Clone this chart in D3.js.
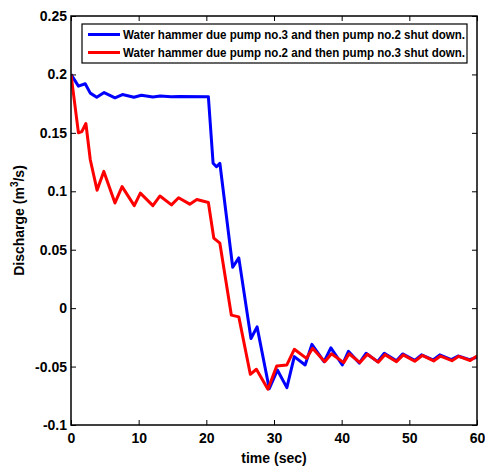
<!DOCTYPE html>
<html>
<head>
<meta charset="utf-8">
<script src="https://cdn.jsdelivr.net/npm/d3@7"></script>
<style>
  html, body { margin: 0; padding: 0; background: #fff; }
  svg { display: block; }
  text { font-family: "Liberation Sans", Arial, Helvetica, sans-serif; font-weight: bold; fill: #000; }
</style>
</head>
<body>
<svg id="chart" width="485" height="467"></svg>
<script>
// Discharge after pump trips: pump no.3 first, then pump no.2
const blueTime = [0, 1.1, 2.1, 2.85, 3.8, 4.9, 6.5, 7.6, 9.3, 10.4, 12.1, 13.2, 14.8, 16, 20.3, 21.0, 21.5, 22.0, 23.9, 24.8, 26.6, 27.5, 29.3, 30.5, 31.9, 33.0, 34.6, 35.6, 37.4, 38.4, 40.1, 41.0, 42.6, 43.6, 45.3, 46.3, 48.1, 49.0, 50.8, 51.8, 53.5, 54.5, 56.2, 57.2, 58.9, 60];
const blueFlow = [0.2, 0.19, 0.192, 0.184, 0.1805, 0.1845, 0.18, 0.1828, 0.1805, 0.1822, 0.1806, 0.1815, 0.1808, 0.1812, 0.181, 0.124, 0.121, 0.124, 0.035, 0.043, -0.026, -0.016, -0.069, -0.053, -0.068, -0.0415, -0.0486, -0.031, -0.0458, -0.034, -0.0486, -0.037, -0.047, -0.0386, -0.0458, -0.0386, -0.045, -0.0392, -0.0447, -0.040, -0.0443, -0.040, -0.044, -0.041, -0.044, -0.042];

// Discharge after pump trips: pump no.2 first, then pump no.3
const redTime = [0, 1.1, 1.6, 2.2, 2.85, 3.85, 4.85, 6.5, 7.55, 9.35, 10.25, 12.1, 13.15, 14.85, 15.9, 17.55, 18.6, 20.3, 21.1, 22.0, 23.7, 24.8, 26.5, 27.4, 29.1, 30.4, 31.9, 33.0, 34.8, 35.7, 37.5, 38.5, 40.3, 41.1, 42.7, 43.8, 45.4, 46.4, 48.1, 49.1, 50.8, 51.9, 53.6, 54.6, 56.3, 57.3, 59.0, 60];
const redFlow = [0.2, 0.15, 0.151, 0.158, 0.127, 0.101, 0.117, 0.090, 0.104, 0.0877, 0.0984, 0.0877, 0.096, 0.0884, 0.0945, 0.089, 0.093, 0.0904, 0.060, 0.0556, -0.006, -0.0075, -0.0566, -0.0523, -0.0694, -0.0495, -0.0486, -0.0352, -0.043, -0.0343, -0.0458, -0.039, -0.0466, -0.039, -0.0466, -0.0395, -0.0462, -0.0398, -0.0458, -0.040, -0.0455, -0.0405, -0.0452, -0.041, -0.045, -0.0412, -0.0448, -0.041];

const xTicks = [0, 10, 20, 30, 40, 50, 60];
const yTicks = [-0.1, -0.05, 0, 0.05, 0.1, 0.15, 0.2, 0.25];
const legendLabels = [
  "Water hammer due pump no.3 and then pump no.2 shut down.",
  "Water hammer due pump no.2 and then pump no.3 shut down."
];
const seriesColors = ["#0000ff", "#ff0000"];

const margin = { left: 71, right: 8, top: 16, bottom: 42 };
const W = 485, H = 467;
const svg = d3.select("#chart");

const x = d3.scaleLinear().domain([0, 60]).range([margin.left, W - margin.right]);
const y = d3.scaleLinear().domain([-0.1, 0.25]).range([H - margin.bottom, margin.top]);

const fmtY = d => (Math.abs(d) < 1e-9 ? "0" : String(+d.toFixed(2)));

// Curves, clipped to the axes box
svg.append("clipPath").attr("id", "plotClip")
  .append("rect")
  .attr("x", x(0)).attr("y", y(0.25))
  .attr("width", x(60) - x(0)).attr("height", y(-0.1) - y(0.25));

const line = d3.line().x(d => x(d[0])).y(d => y(d[1]));
const series = [
  d3.zip(blueTime, blueFlow),
  d3.zip(redTime, redFlow)
];
const gLines = svg.append("g").attr("clip-path", "url(#plotClip)");
series.forEach((s, i) => {
  gLines.append("path")
    .datum(s)
    .attr("d", line)
    .attr("fill", "none")
    .attr("stroke", seriesColors[i])
    .attr("stroke-width", 3)
    .attr("stroke-linejoin", "round");
});

// Axes with inward ticks on all four sides
const tickLen = 5;
function styleAxis(g) {
  g.select(".domain").remove();
  g.selectAll(".tick line").attr("stroke", "#000").attr("stroke-width", 1);
  g.selectAll(".tick text")
    .attr("font-family", "Liberation Sans, Arial, sans-serif")
    .attr("font-weight", "bold")
    .attr("font-size", 14)
    .attr("fill", "#000");
}

svg.append("g")
  .attr("transform", `translate(0,${y(-0.1)})`)
  .call(d3.axisBottom(x).tickValues(xTicks).tickSizeInner(-tickLen).tickSizeOuter(0).tickPadding(8).tickFormat(d3.format("d")))
  .call(styleAxis);

svg.append("g")
  .attr("transform", `translate(${x(0)},0)`)
  .call(d3.axisLeft(y).tickValues(yTicks).tickSizeInner(-tickLen).tickSizeOuter(0).tickPadding(4).tickFormat(fmtY))
  .call(styleAxis);

svg.append("g")
  .attr("transform", `translate(0,${y(0.25)})`)
  .call(d3.axisTop(x).tickValues(xTicks).tickSizeInner(-tickLen).tickSizeOuter(0).tickFormat(""))
  .call(styleAxis);

svg.append("g")
  .attr("transform", `translate(${x(60)},0)`)
  .call(d3.axisRight(y).tickValues(yTicks).tickSizeInner(-tickLen).tickSizeOuter(0).tickFormat(""))
  .call(styleAxis);

// Axes box
svg.append("rect")
  .attr("x", x(0)).attr("y", y(0.25))
  .attr("width", x(60) - x(0)).attr("height", y(-0.1) - y(0.25))
  .attr("fill", "none").attr("stroke", "#000").attr("stroke-width", 1.5);

// Axis titles
svg.append("text")
  .attr("x", (x(0) + x(60)) / 2).attr("y", 463)
  .attr("text-anchor", "middle").attr("font-size", 14)
  .text("time (sec)");

const yTitle = svg.append("text")
  .attr("transform", `translate(24,${(y(0.25) + y(-0.1)) / 2}) rotate(-90)`)
  .attr("text-anchor", "middle").attr("font-size", 14);
yTitle.append("tspan").text("Discharge (m");
yTitle.append("tspan").attr("font-size", 10).attr("dy", -6).text("3");
yTitle.append("tspan").attr("dy", 6).text("/s)");

// Legend
const lg = svg.append("g");
lg.append("rect")
  .attr("x", 82).attr("y", 24).attr("width", 385).attr("height", 39)
  .attr("fill", "#fff").attr("stroke", "#000").attr("stroke-width", 1.2);
legendLabels.forEach((lab, i) => {
  const yy = 34.5 + i * 18;
  lg.append("line")
    .attr("x1", 88).attr("x2", 120).attr("y1", yy).attr("y2", yy)
    .attr("stroke", seriesColors[i]).attr("stroke-width", 3);
  lg.append("text")
    .attr("x", 123).attr("y", yy + 4.5)
    .attr("font-size", 12)
    .attr("textLength", 342).attr("lengthAdjust", "spacingAndGlyphs")
    .text(lab);
});
</script>
</body>
</html>
